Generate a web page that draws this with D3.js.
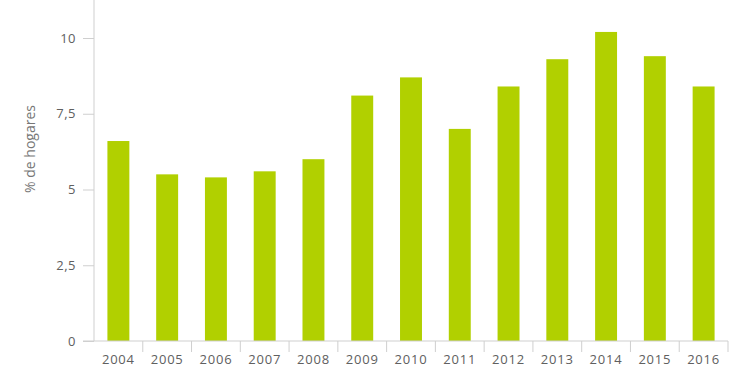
<!DOCTYPE html>
<html>
<head>
<meta charset="utf-8">
<script src="https://cdn.jsdelivr.net/npm/d3@7"></script>
<style>
  body { margin: 0; background: #fff; }
  svg text { font-family: "Open Sans", "DejaVu Sans", sans-serif; }
</style>
</head>
<body>
<svg id="chart" width="740" height="389"></svg>
<script>
const years = ['2004', '2005', '2006', '2007', '2008', '2009', '2010', '2011', '2012', '2013', '2014', '2015', '2016']
const values = [6.6, 5.5, 5.4, 5.6, 6.0, 8.1, 8.7, 7.0, 8.4, 9.3, 10.2, 9.4, 8.4]
const yTicks = [0, 2.5, 5, 7.5, 10]
const yLabel = '% de hogares'

const svg = d3.select('#chart')
const axisColor = '#cfcfcf'
const textColor = '#606060'

// escalas
const x = d3.scaleBand().domain(years).range([94, 728])
const y = d3.scaleLinear().domain([0, 10]).range([341, 38])
const locale = d3.formatLocale({ decimal: ',', thousands: '.', grouping: [3], currency: ['', '€'] })
const fmt = locale.format('~g')

// barras
const barW = x.bandwidth() * 0.45
svg.append('g')
  .selectAll('rect')
  .data(years)
  .join('rect')
  .attr('x', d => x(d) + (x.bandwidth() - barW) / 2)
  .attr('y', (d, i) => y(values[i]))
  .attr('width', barW)
  .attr('height', (d, i) => y(0) - y(values[i]))
  .attr('fill', '#b1d000')

// eje Y
const yAxisG = svg.append('g').attr('transform', 'translate(94,0)')
  .call(d3.axisLeft(y).tickValues(yTicks).tickSize(11).tickPadding(7).tickFormat(fmt))
yAxisG.select('.domain').remove()
yAxisG.append('line').attr('x1', 0).attr('x2', 0).attr('y1', 0).attr('y2', y(0)).attr('stroke', axisColor)
yAxisG.selectAll('.tick line').attr('stroke', axisColor)
yAxisG.selectAll('.tick text').attr('fill', textColor).attr('font-size', 13).attr('letter-spacing', 0.5)

// eje X
const xAxisG = svg.append('g').attr('transform', `translate(0,${y(0)})`)
xAxisG.append('line').attr('x1', 83).attr('x2', 728).attr('y1', 0).attr('y2', 0).attr('stroke', axisColor)
xAxisG.selectAll('line.sep')
  .data(years.slice(1).concat(['end']))
  .join('line')
  .attr('class', 'sep')
  .attr('x1', d => (d === 'end' ? 728 : x(d)))
  .attr('x2', d => (d === 'end' ? 728 : x(d)))
  .attr('y1', 0)
  .attr('y2', 11)
  .attr('stroke', axisColor)
xAxisG.selectAll('text')
  .data(years)
  .join('text')
  .attr('x', d => x(d) + x.bandwidth() / 2)
  .attr('y', 23)
  .attr('text-anchor', 'middle')
  .attr('font-size', 13)
  .attr('letter-spacing', 0.8)
  .attr('fill', textColor)
  .text(d => d)

// etiqueta
svg.append('text')
  .attr('transform', 'rotate(-90)')
  .attr('x', -149)
  .attr('y', 35)
  .attr('text-anchor', 'middle')
  .attr('font-size', 14)
  .attr('fill', '#777')
  .text(yLabel)
</script>
</body>
</html>
